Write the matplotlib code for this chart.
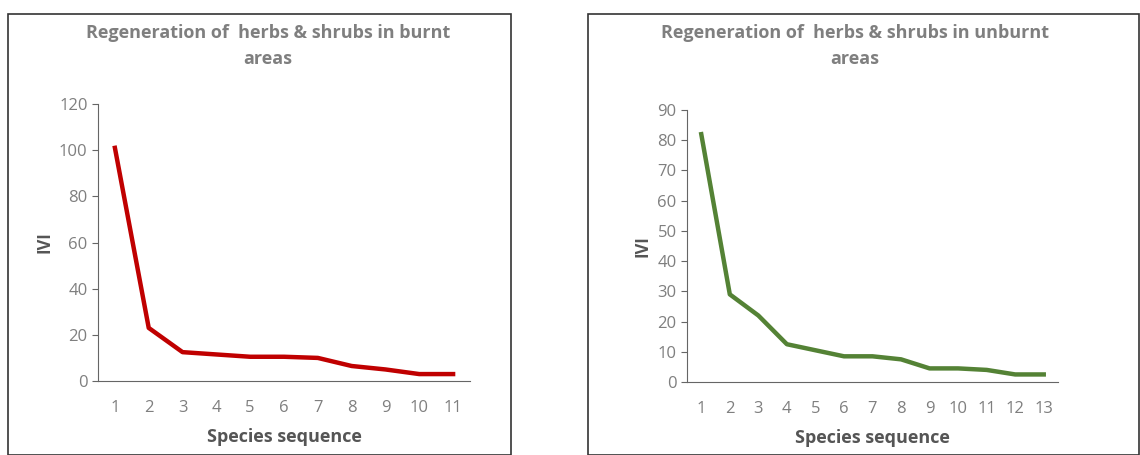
import matplotlib.pyplot as plt
from matplotlib.patches import Rectangle

burnt = [101, 23, 12.5, 11.5, 10.5, 10.5, 10, 6.5, 5, 3, 3]
unburnt = [82, 29, 22, 12.5, 10.5, 8.5, 8.5, 7.5, 4.5, 4.5, 4, 2.5, 2.5]

plt.rcParams['font.family'] = ['Open Sans', 'DejaVu Sans']
W, H = 1140, 455
fig = plt.figure(figsize=(W / 100, H / 100), dpi=100)

# panel frames
for x0, x1 in [(8, 511), (588, 1139)]:
    fig.patches.append(Rectangle((x0 / W, 0), (x1 - x0) / W, (H - 14) / H,
                                 transform=fig.transFigure, fill=False,
                                 edgecolor='#333333', linewidth=1.2))

grey = '#7f7f7f'

def panel(rect, vals, color, ymax, step, title, tx):
    ax = fig.add_axes([rect[0] / W, 1 - rect[3] / H, (rect[2] - rect[0]) / W,
                       (rect[3] - rect[1]) / H])
    xs = list(range(1, len(vals) + 1))
    ax.plot(xs, vals, color=color, linewidth=3.2, solid_joinstyle='round')
    ax.set_xlim(0.5, len(vals) + 0.5)
    ax.set_ylim(0, ymax)
    ax.set_yticks(range(0, ymax + 1, step))
    ax.set_xticks(xs)
    for s in ['top', 'right']:
        ax.spines[s].set_visible(False)
    ax.spines['left'].set_color('#666666')
    ax.spines['bottom'].set_color('#666666')
    ax.tick_params(axis='x', length=0, colors=grey, labelsize=12, pad=14)
    ax.tick_params(axis='y', length=4, colors='#666666', labelcolor=grey,
                   labelsize=12)
    ax.set_ylabel('IVI', fontsize=12, fontweight='bold', color='#555555')
    ax.set_xlabel('Species sequence', fontsize=13, fontweight='bold',
                  color='#555555', labelpad=8)
    fig.text(tx / W, 1 - 46 / H, title, ha='center', va='center', fontsize=13,
             fontweight='bold', color=grey, linespacing=1.5)
    return ax

panel((98, 104, 470, 381), burnt, '#c00000', 120, 20,
      'Regeneration of  herbs & shrubs in burnt\nareas', 268)
panel((687, 110, 1058, 382), unburnt, '#548235', 90, 10,
      'Regeneration of  herbs & shrubs in unburnt\nareas', 855)

fig.savefig('out.png', dpi=100)
